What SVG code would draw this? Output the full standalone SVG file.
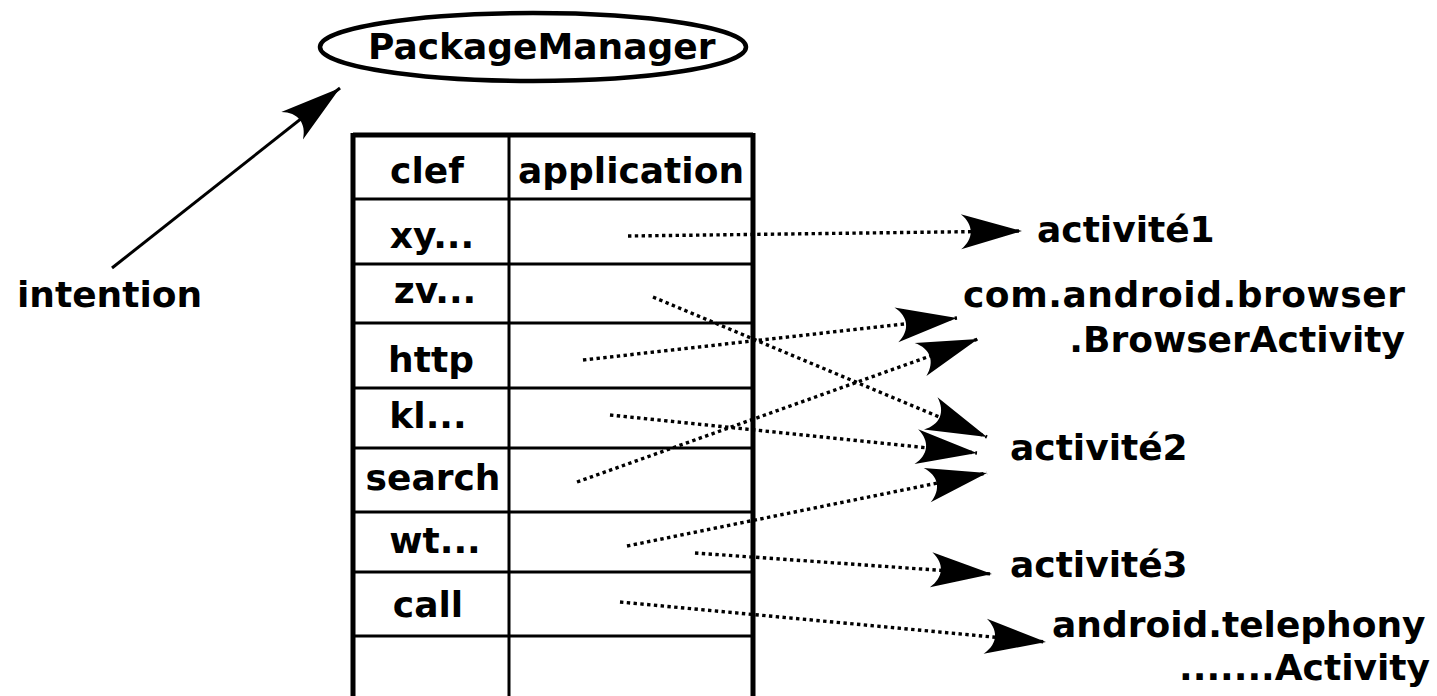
<svg xmlns="http://www.w3.org/2000/svg" width="1437" height="696" viewBox="0 0 1437 696">
  <style>
    text { font-family: "DejaVu Sans", "Liberation Sans", sans-serif; font-weight: bold; font-size: 36px; fill: #000; }
    .mid { text-anchor: middle; }
    .end { text-anchor: end; }
    .outer { stroke: #000; stroke-width: 5; fill: none; }
    .inner { stroke: #000; stroke-width: 3; fill: none; }
    .dotted { stroke: #000; stroke-width: 3.4; fill: none; stroke-dasharray: 3.4 3.4; marker-end: url(#head); }
    .solid { stroke: #000; stroke-width: 3; fill: none; marker-end: url(#head); }
  </style>
  <defs>
    <marker id="head" markerUnits="userSpaceOnUse" viewBox="-64 -20 66 40" markerWidth="66" markerHeight="40" refX="0" refY="0" orient="auto">
      <path d="M0,0 L-61,-17.5 C-48,-7 -48,7 -61,17.5 Z" fill="#000"/>
    </marker>
  </defs>

  <rect width="1437" height="696" fill="#fff"/>

  <!-- PackageManager -->
  <g id="package-manager">
    <ellipse cx="533" cy="47" rx="213" ry="34" fill="none" stroke="#000" stroke-width="4.5"/>
    <text x="368" y="59">PackageManager</text>
  </g>

  <!-- intention label -->
  <g id="intention">
    <text x="17" y="307">intention</text>
  </g>

  <!-- lookup table -->
  <g id="table">
    <line class="outer" x1="353" y1="135" x2="753" y2="135"/>
    <line class="outer" x1="353" y1="133" x2="353" y2="696"/>
    <line class="outer" x1="753" y1="133" x2="753" y2="696"/>
    <line class="inner" x1="509" y1="135" x2="509" y2="696"/>
    <line class="inner" x1="353" y1="199" x2="753" y2="199"/>
    <line class="inner" x1="353" y1="264" x2="753" y2="264"/>
    <line class="inner" x1="353" y1="323" x2="753" y2="323"/>
    <line class="inner" x1="353" y1="388" x2="753" y2="388"/>
    <line class="inner" x1="353" y1="448" x2="753" y2="448"/>
    <line class="inner" x1="353" y1="512" x2="753" y2="512"/>
    <line class="inner" x1="353" y1="572" x2="753" y2="572"/>
    <line class="inner" x1="353" y1="636" x2="753" y2="636"/>
    <text class="mid" x="427" y="183">clef</text>
    <text class="mid" x="631" y="183">application</text>
    <text class="mid" x="432" y="248">xy...</text>
    <text class="mid" x="435" y="303">zv...</text>
    <text class="mid" x="431" y="372">http</text>
    <text class="mid" x="428" y="428">kl...</text>
    <text class="mid" x="433" y="490">search</text>
    <text class="mid" x="435" y="553">wt...</text>
    <text class="mid" x="428" y="617">call</text>
  </g>

  <!-- target activities -->
  <g id="activite1"><text x="1037" y="242">activité1</text></g>
  <g id="browser">
    <text x="963" y="307" textLength="442">com.android.browser</text>
    <text class="end" x="1405" y="352">.BrowserActivity</text>
  </g>
  <g id="activite2"><text x="1010" y="460">activité2</text></g>
  <g id="activite3"><text x="1010" y="577">activité3</text></g>
  <g id="telephony">
    <text x="1052" y="637">android.telephony</text>
    <text class="end" x="1430" y="680">.......Activity</text>
  </g>

  <!-- connectors -->
  <g id="connectors">
    <line class="solid" x1="112" y1="268" x2="340" y2="88"/>
    <line class="dotted" x1="628" y1="236" x2="1022" y2="231"/>
    <line class="dotted" x1="653" y1="297" x2="987" y2="437"/>
    <line class="dotted" x1="583" y1="360" x2="957" y2="318"/>
    <line class="dotted" x1="610" y1="415" x2="977" y2="453"/>
    <line class="dotted" x1="577" y1="482" x2="978" y2="339"/>
    <line class="dotted" x1="627" y1="546" x2="987" y2="473"/>
    <line class="dotted" x1="695" y1="553" x2="992" y2="574"/>
    <line class="dotted" x1="620" y1="602" x2="1046" y2="642"/>
  </g>
</svg>
